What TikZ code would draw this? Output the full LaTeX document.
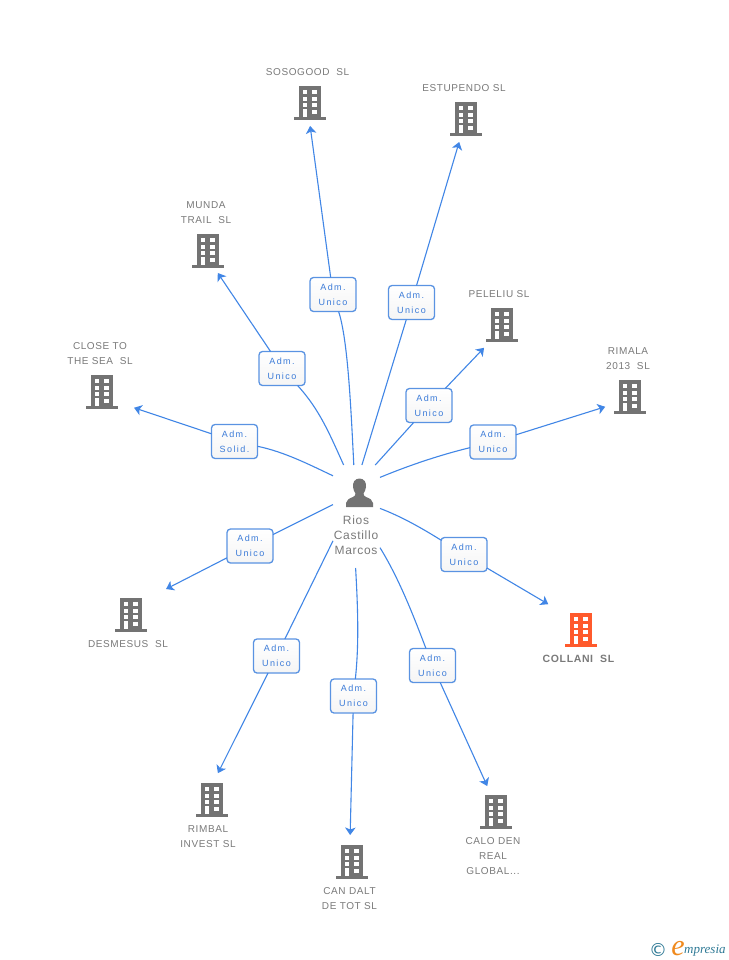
\documentclass[tikz,border=0pt]{standalone}
\usepackage{fontspec}
\setmainfont{Liberation Sans}
\newfontfamily\lblfont[LetterSpace=6]{Liberation Sans}
\newfontfamily\boxfont[LetterSpace=16]{Liberation Sans}
\newfontfamily\logofont{Liberation Serif}
\newfontfamily\copyfont{DejaVu Sans}
\usetikzlibrary{arrows.meta,shadows}
\definecolor{linkblue}{HTML}{4186E6}
\definecolor{boxline}{HTML}{5A93E2}
\definecolor{boxtext}{HTML}{3B7BD8}
\definecolor{icongray}{HTML}{737373}
\definecolor{icontext}{HTML}{7A7A7A}
\definecolor{hilite}{HTML}{FF5A2C}
\definecolor{logoteal}{HTML}{2F7A96}
\definecolor{logoorange}{HTML}{F08A1E}
\tikzset{
  conn/.style={draw=linkblue,line width=1.1pt},
  arrowed/.style={conn,-{Stealth[length=7.5pt,width=10.5pt,inset=2pt]}},
  rolebox/.style={draw=boxline,line width=1.3pt,rounded corners=3.5pt,minimum width=46pt,minimum height=34pt,inner sep=0pt,outer sep=0pt,
    top color=white,bottom color=white!96!black,align=center,text=boxtext,font=\boxfont\fontsize{9}{15}\selectfont},
  name label/.style={align=center,text=icontext,inner sep=0pt,font=\lblfont\fontsize{10}{15}\selectfont},
  target/.style={circle,inner sep=0pt,outer sep=0pt,minimum size=#1},
  pics/bldg/.style={code={
    \fill[#1] (-11,-34) rectangle (11,-3);
    \fill[#1] (-16,-3) rectangle (16,0);
    \fill[white] (-7.3,-29.7) rectangle (-2.7,-25.7);
    \fill[white] (2.4,-29.7) rectangle (7,-25.7);
    \fill[white] (-7.3,-23.3) rectangle (-2.7,-19.3);
    \fill[white] (2.4,-23.3) rectangle (7,-19.3);
    \fill[white] (-7.3,-16.7) rectangle (-2.7,-12.7);
    \fill[white] (2.4,-16.7) rectangle (7,-12.7);
    \fill[white] (2.4,-10) rectangle (7,-6);
    \fill[white] (-7.3,-10.7) rectangle (-2.7,-3);
  }}
}
\begin{document}
\begin{tikzpicture}[x=1pt,y=-1pt]
\useasboundingbox (0,0) rectangle (728,960);
\fill[white] (0,0) rectangle (728,960);

% person
\node[inner sep=0pt,outer sep=0pt,minimum width=47pt,minimum height=103pt] (person) at (356.5,516.5) {};
\fill[icongray] (359.5,478.5) .. controls (354.5,478.5) and (352.5,483) .. (353,487)
  .. controls (353.3,490) and (354.5,492) .. (355.5,493.5)
  .. controls (355.5,495) and (355,496) .. (353,497)
  .. controls (349,498.5) and (346.5,500) .. (346,503) -- (346,507) -- (373,507) -- (373,503)
  .. controls (372.5,500) and (370,498.5) .. (366,497)
  .. controls (364,496) and (363.5,495) .. (363.5,493.5)
  .. controls (364.5,492) and (365.7,490) .. (366,487)
  .. controls (366.5,483) and (364.5,478.5) .. (359.5,478.5) -- cycle;
\node[name label,font=\lblfont\fontsize{12}{15}\selectfont] (personname) at (356,535) {Rios\\Castillo\\Marcos};

% buildings
\pic at (310,120) {bldg=icongray};
\pic at (466,136) {bldg=icongray};
\pic at (208,268) {bldg=icongray};
\pic at (502,342) {bldg=icongray};
\pic at (630,414) {bldg=icongray};
\pic at (102,409) {bldg=icongray};
\pic at (131,632) {bldg=icongray};
\pic at (581,647) {bldg=hilite};
\pic at (212,817) {bldg=icongray};
\pic at (352,879) {bldg=icongray};
\pic at (496,829) {bldg=icongray};

% connector targets around the buildings
\node[target=46.4pt] (soso) at (307,103) {};
\node[target=48pt] (estu) at (466,119) {};
\node[target=53pt] (munda) at (203,251) {};
\node[target=52pt] (pele) at (502,329) {};
\node[target=52pt] (rimala) at (630,399) {};
\node[target=67.6pt] (close) at (102,397) {};
\node[target=78.8pt] (desm) at (131,607) {};
\node[target=76pt] (coll) at (581,623.5) {};
\node[target=60pt] (rimbal) at (204.5,800) {};
\node[target=54pt] (candalt) at (349.5,862) {};
\node[target=57pt] (calo) at (499,812) {};

% role boxes
\node[rolebox] (bsoso) at (333,294.5) {Adm.\\Unico};
\node[rolebox] (bestu) at (411.5,302.5) {Adm.\\Unico};
\node[rolebox] (bmunda) at (282,368.5) {Adm.\\Unico};
\node[rolebox] (bpele) at (429,405.5) {Adm.\\Unico};
\node[rolebox] (brimala) at (493,442) {Adm.\\Unico};
\node[rolebox] (bclose) at (234.5,441.5) {Adm.\\Solid.};
\node[rolebox] (bdesm) at (250,546) {Adm.\\Unico};
\node[rolebox] (bcoll) at (464,554.5) {Adm.\\Unico};
\node[rolebox] (brimbal) at (276.5,656) {Adm.\\Unico};
\node[rolebox] (bcandalt) at (353.5,696) {Adm.\\Unico};
\node[rolebox] (bcalo) at (432.5,665.5) {Adm.\\Unico};

% connectors person to box
\draw[conn] (person.93.9) .. controls (351,410) and (348,340) .. (bsoso);
\draw[conn] (person.84) -- (bestu);
\draw[conn] (person.104.7) .. controls (330,435) and (320,410) .. (bmunda);
\draw[conn] (person.70.2) -- (bpele);
\draw[conn] (person.59.2) .. controls (410,465) and (440,455) .. (brimala);
\draw[conn] (person.120.8) .. controls (310,465) and (285,452) .. (bclose);
\draw[conn] (person.153.9) -- (bdesm);
\draw[conn] (person.19.9) .. controls (400,516) and (420,527) .. (bcoll);
\draw[conn] (person.226.2) -- (brimbal);
\draw[conn] (person.269.4) .. controls (358,610) and (359,645) .. (bcandalt);
\draw[conn] (person.307.6) .. controls (400,580) and (415,620) .. (bcalo);

% connectors box to building
\draw[arrowed] (bsoso) -- (soso);
\draw[arrowed] (bestu) -- (estu);
\draw[arrowed] (bmunda) -- (munda);
\draw[arrowed] (bpele) -- (pele);
\draw[arrowed] (brimala) -- (rimala);
\draw[arrowed] (bclose) -- (close);
\draw[arrowed] (bdesm) -- (desm);
\draw[arrowed] (bcoll) -- (coll);
\draw[arrowed] (brimbal) -- (rimbal);
\draw[arrowed] (bcandalt) -- (candalt);
\draw[arrowed] (bcalo) -- (calo);

% labels
\node[name label] (lsoso) at (307.5,72) {SOSOGOOD\ \ SL};
\node[name label] (lestu) at (464,88) {ESTUPENDO SL};
\node[name label] (lmunda) at (206,212.5) {MUNDA\\TRAIL\ \ SL};
\node[name label] (lpele) at (499,294) {PELELIU SL};
\node[name label] (lrimala) at (628,358.5) {RIMALA\\2013\ \ SL};
\node[name label] (lclose) at (100,353.5) {CLOSE TO\\THE SEA\ \ SL};
\node[name label] (ldesm) at (128,644) {DESMESUS\ \ SL};
\node[name label,font=\lblfont\bfseries\fontsize{10.5}{15}\selectfont] (lcoll) at (578.5,659) {COLLANI\ \ SL};
\node[name label] (lrimbal) at (208,836.5) {RIMBAL\\INVEST SL};
\node[name label] (lcandalt) at (349.5,898.5) {CAN DALT\\DE TOT SL};
\node[name label] (lcalo) at (493,856) {CALO DEN\\REAL\\GLOBAL...};

% logo
\node[inner sep=0pt,text=logoteal,font=\copyfont\fontsize{18}{18}\selectfont] (logoc) at (658,949.5) {©};
\node[inner sep=0pt,anchor=base,text=logoorange,font=\logofont\itshape\fontsize{30}{30}\selectfont] (logoe) at (678,955) {e};
\node[inner sep=0pt,anchor=base west,text=logoteal,font=\logofont\itshape\fontsize{13}{13}\selectfont] (logot) at (684,953.5) {mpresia};
\end{tikzpicture}
\end{document}
